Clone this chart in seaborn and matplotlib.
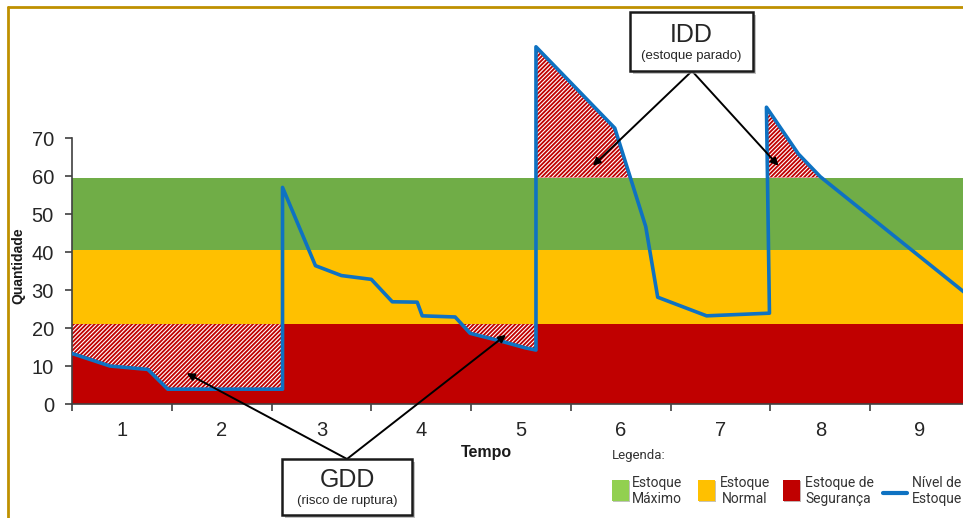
import matplotlib
matplotlib.use("Agg")
import matplotlib.pyplot as plt
import matplotlib.patheffects as pe
from matplotlib.patches import Rectangle
from matplotlib.lines import Line2D
import seaborn as sns
import pandas as pd

# --- data -------------------------------------------------------------
# stock level over time (time in periods, quantity in units)
tempo = [0.00, 0.38, 0.76, 0.96, 2.11, 2.11, 2.44, 2.70, 3.00, 3.21, 3.46,
         3.51, 3.84, 3.99, 4.32, 4.54, 4.65, 4.65, 5.44, 5.75, 5.87, 6.36,
         6.99, 6.96, 7.28, 7.50, 9.00]
nivel = [13.3, 10.0, 9.1, 3.9, 3.9, 57.0, 36.4, 33.8, 32.8, 26.9, 26.8,
         23.2, 22.9, 18.6, 16.4, 14.8, 14.2, 94.0, 72.6, 46.7, 28.1, 23.2,
         23.9, 78.1, 65.8, 59.8, 28.2]

# stock zones (lower, upper limits)
zona_seguranca = (0.0, 21.0)
zona_normal = (21.0, 40.5)
zona_maximo = (40.5, 59.6)

periodos = ["1", "2", "3", "4", "5", "6", "7", "8", "9"]
y_ticks = [0, 10, 20, 30, 40, 50, 60, 70]

legenda_rotulos = ["Estoque\nMáximo", "Estoque\nNormal", "Estoque de\nSegurança", "Nível de\nEstoque"]

# --- style ------------------------------------------------------------
GREEN, YELLOW, RED, BLUE = "#70AD47", "#FFC000", "#C00000", "#0E72C2"
LEG_GREEN = "#92D050"

sns.set_theme(style="white")
plt.rcParams["font.family"] = ["Liberation Sans", "DejaVu Sans"]
plt.rcParams["hatch.color"] = "white"
plt.rcParams["hatch.linewidth"] = 0.8

W, H = 963, 518
fig = plt.figure(figsize=(W / 100, H / 100), dpi=100)

def fx(px):
    return px / W

def fy(py):
    return 1 - py / H

# axes: x 0..9 spans 72px..970px, y 0..100 spans 404px..24px
ax = fig.add_axes([fx(72), fy(404), (970 - 72) / W, (404 - 24) / H])
ax.set_xlim(0, 9)
ax.set_ylim(0, 100)
ax.patch.set_alpha(0)

# zone bands
ax.axhspan(*zona_seguranca, color=RED, lw=0, zorder=0)
ax.axhspan(*zona_normal, color=YELLOW, lw=0, zorder=0)
ax.axhspan(*zona_maximo, color=GREEN, lw=0, zorder=0)

df = pd.DataFrame({"Tempo": tempo, "Quantidade": nivel})
s = pd.Series(nivel)

# shortage risk (below safety level) and idle stock (above maximum)
HATCH = "////////"
ax.fill_between(df["Tempo"], df["Quantidade"], zona_seguranca[1],
                where=(s <= zona_seguranca[1]).to_list(), interpolate=True,
                facecolor=RED, edgecolor="white", hatch=HATCH, lw=0, zorder=1)
ax.fill_between(df["Tempo"], df["Quantidade"], zona_maximo[1],
                where=(s >= zona_maximo[1]).to_list(), interpolate=True,
                facecolor=RED, edgecolor="white", hatch=HATCH, lw=0, zorder=1)

sns.lineplot(data=df, x="Tempo", y="Quantidade", sort=False, estimator=None,
             color=BLUE, lw=2.6, ax=ax, zorder=3)
ax.set_xlabel("")
ax.set_ylabel("")

# axes styling
for side in ("top", "right"):
    ax.spines[side].set_visible(False)
for side in ("left", "bottom"):
    ax.spines[side].set_color("#404040")
    ax.spines[side].set_linewidth(1.2)
ax.spines["left"].set_bounds(0, 70)

ax.set_yticks(y_ticks)
ax.set_yticklabels([str(v) for v in y_ticks], fontsize=14.5, color="#262626")
ax.tick_params(axis="y", which="major", length=5, width=1.2, color="#404040",
               direction="out", pad=8, left=True)

ax.set_xticks(range(0, 10))
ax.set_xticklabels([])
ax.set_xticks([i + 0.5 for i in range(len(periodos))], minor=True)
ax.set_xticklabels(periodos, minor=True, fontsize=14.5, color="#262626")
ax.tick_params(axis="x", which="major", length=5, width=1.2, color="#404040",
               direction="out", bottom=True)
ax.tick_params(axis="x", which="minor", length=0, pad=12)
ax.grid(False)

# axis titles
fig.text(fx(18), fy(266), "Quantidade", rotation=90, ha="center", va="center",
         fontsize=10, fontweight="bold", color="#1a1a1a")
fig.text(fx(486), fy(453), "Tempo", ha="center", va="center",
         fontsize=11.5, fontweight="bold", color="#1a1a1a")

# callout boxes with arrows
shadow = [pe.SimplePatchShadow(offset=(2, -2), shadow_rgbFace="#9a9a9a", alpha=0.6), pe.Normal()]

def callout(x0, y0, x1, y1, title, subtitle, title_y, sub_y):
    box = Rectangle((fx(x0), fy(y1)), fx(x1 - x0), (y1 - y0) / H,
                    transform=fig.transFigure, facecolor="white",
                    edgecolor="#1a1a1a", lw=1.8, zorder=5, path_effects=shadow)
    fig.add_artist(box)
    cx = (x0 + x1) / 2
    fig.text(fx(cx), fy(title_y), title, ha="center", va="center",
             fontsize=18, color="#262626", zorder=6)
    fig.text(fx(cx), fy(sub_y), subtitle, ha="center", va="center",
             fontsize=9.5, color="#262626", zorder=6)

callout(630, 12, 753, 71, "IDD", "(estoque parado)", 35, 56)
callout(282, 459, 412, 515, "GDD", "(risco de ruptura)", 480, 501)

arrow = dict(arrowstyle="-|>", mutation_scale=11, lw=1.4, color="black",
             shrinkA=0, shrinkB=0)
for tx, ty in [(5.22, 62.7), (7.08, 62.7)]:
    ax.annotate("", xy=(tx, ty), xycoords="data", xytext=(692, H - 71),
                textcoords="figure pixels", arrowprops=arrow, zorder=4,
                annotation_clip=False)
for tx, ty in [(1.15, 8.1), (4.35, 18.2)]:
    ax.annotate("", xy=(tx, ty), xycoords="data", xytext=(347, H - 459),
                textcoords="figure pixels", arrowprops=arrow, zorder=4,
                annotation_clip=False)

# legend
leg_font = ["Roboto", "DejaVu Sans"]
fig.text(fx(612), fy(455), "Legenda:", ha="left", va="center", fontsize=9.5,
         color="#333333", family=leg_font)
for x0, col in [(612, LEG_GREEN), (698, YELLOW), (783, RED)]:
    fig.add_artist(Rectangle((fx(x0), fy(501)), fx(17), 21 / H,
                             transform=fig.transFigure, facecolor=col,
                             edgecolor="none", path_effects=[pe.SimplePatchShadow(offset=(1, -1), alpha=0.3), pe.Normal()]))
fig.add_artist(Line2D([fx(883), fx(907)], [fy(493), fy(493)],
                      transform=fig.transFigure, color=BLUE, lw=3))
for (x, ha), lab in zip([(632, "left"), (745, "center"), (805, "left"), (937, "center")],
                        legenda_rotulos):
    fig.text(fx(x), fy(491), lab, ha=ha, va="center", fontsize=10,
             color="#333333", family=leg_font, linespacing=1.1)

# golden frame
frame = dict(transform=fig.transFigure, color="#BF9000", lw=2)
fig.add_artist(Line2D([fx(8), fx(8)], [0, fy(7)], **frame))
fig.add_artist(Line2D([fx(8), 1], [fy(7), fy(7)], **frame))

fig.savefig("out.png", dpi=100)
